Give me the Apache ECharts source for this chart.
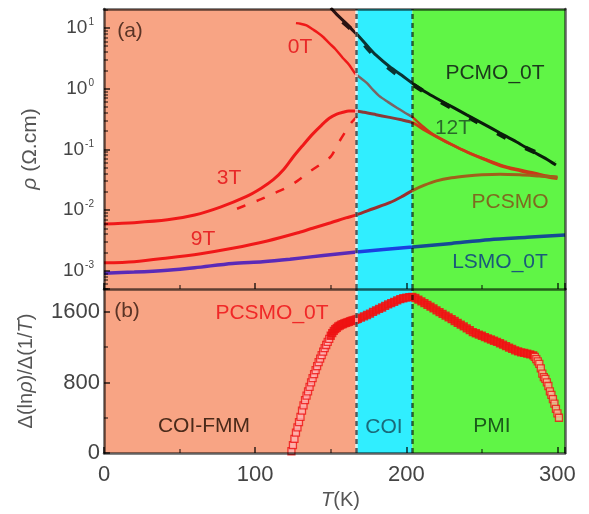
<!DOCTYPE html>
<html>
<head>
<meta charset="utf-8">
<script src="https://cdn.jsdelivr.net/npm/echarts@6/dist/echarts.min.js"></script>
<style>
  html, body { margin: 0; padding: 0; background: #fff; }
  #chart { width: 589px; height: 514px; }
</style>
</head>
<body>
<div id="chart"></div>
<script>
// Temperature regions (K): COI-FMM, COI, PMI
const regionStarts = [0, 167, 204];
const regionEnds = [167, 204, 305];
const regionColors = ['#F8A484', '#30EEFF', '#60F546'];

// (a) resistivity, Ω.cm
const pcmo0T_T = [150, 155, 160, 165, 169, 175, 180, 189, 197, 204, 213, 222, 231, 240, 251, 262, 273, 284, 292, 299];
const pcmo0T_rho = [21.4, 15.8, 12.0, 8.9, 7.1, 4.8, 3.55, 2.29, 1.66, 1.23, 0.87, 0.65, 0.49, 0.37, 0.263, 0.186, 0.132, 0.091, 0.071, 0.055];

const pcmo12T_T = [158, 166, 176, 186, 196, 206, 218, 230, 245, 260, 275, 290, 298];
const pcmo12T_rho = [12.6, 8.3, 4.17, 2.45, 1.58, 1.10, 0.71, 0.48, 0.30, 0.186, 0.117, 0.079, 0.060];

const pcsmo0T_T = [127, 130, 134, 138, 141, 145, 149, 153, 158, 162, 166, 170, 174, 178, 182, 188, 194, 200, 204, 210, 217, 225, 233, 240, 250, 262, 272, 283, 292, 300];
const pcsmo0T_rho = [12.0, 11.7, 11.0, 9.5, 8.5, 7.1, 5.6, 4.5, 3.2, 2.5, 1.8, 1.48, 1.23, 0.95, 0.76, 0.60, 0.48, 0.39, 0.34, 0.25, 0.18, 0.138, 0.11, 0.091, 0.072, 0.056, 0.048, 0.042, 0.037, 0.035];

const pcsmo3T_T = [0, 20, 42, 60, 77, 94, 104, 112, 119, 125, 131, 138, 144, 149, 154, 158, 162, 166, 172, 180, 188, 196, 204, 212, 220, 230, 240, 252, 264, 276, 288, 300];
const pcsmo3T_rho = [0.0059, 0.0062, 0.0069, 0.0083, 0.0112, 0.0166, 0.0229, 0.0316, 0.047, 0.074, 0.112, 0.178, 0.251, 0.324, 0.38, 0.407, 0.427, 0.427, 0.407, 0.372, 0.339, 0.309, 0.275, 0.209, 0.162, 0.120, 0.091, 0.068, 0.052, 0.044, 0.037, 0.033];

const pcsmo3Tb_T = [88, 96, 104, 112, 120, 128, 136, 143, 150, 155, 160, 164, 168];
const pcsmo3Tb_rho = [0.0105, 0.0126, 0.0151, 0.0186, 0.0229, 0.0302, 0.0427, 0.0562, 0.0759, 0.126, 0.200, 0.282, 0.355];

const pcsmo9T_T = [0, 20, 42, 64, 85, 108, 129, 138, 150, 160, 167, 178, 189, 197, 204, 212, 220, 230, 240, 250, 262, 275, 288, 300];
const pcsmo9T_rho = [0.00135, 0.00141, 0.00162, 0.00191, 0.00234, 0.00309, 0.00427, 0.00501, 0.00617, 0.00741, 0.00832, 0.0105, 0.0132, 0.0166, 0.0209, 0.0257, 0.0302, 0.0339, 0.0363, 0.038, 0.0389, 0.038, 0.0363, 0.0347];

const lsmo0T_T = [0, 20, 42, 60, 85, 105, 123, 145, 167, 185, 204, 230, 255, 280, 305];
const lsmo0T_rho = [0.00091, 0.00095, 0.00102, 0.00112, 0.00132, 0.00141, 0.00155, 0.00178, 0.00204, 0.00224, 0.00245, 0.00282, 0.00324, 0.00355, 0.00389];

// (b) Δ(ln ρ)/Δ(1/T) for PCSMO at 0 T
const dlnT = [124,125,126,127,128,129,130,131,132,133,134,135,136,137,138,139,140,141,142,143,144,145,146,147,148,149,150,151,152,153,154,155,156,157,158,159,160,161,162,163,164,165,166,167,168,170,172,174,176,178,180,182,184,186,188,190,192,194,196,198,200,202,204,206,208,210,212,214,216,218,220,222,224,226,228,230,232,234,236,238,240,242,244,246,248,250,252,254,256,258,260,262,264,266,268,270,272,274,276,278,280,282,284,285,286,287,288,289,290,291,292,293,294,295,296,297,298,299,300,301];
const dlnVal = [20,90,160,230,290,350,410,480,540,600,650,700,750,800,850,895,940,985,1030,1070,1110,1150,1190,1225,1260,1295,1330,1360,1385,1405,1420,1435,1445,1455,1462,1470,1476,1482,1488,1495,1500,1505,1510,1515,1522,1535,1550,1565,1580,1600,1618,1634,1650,1668,1685,1700,1715,1730,1745,1755,1763,1768,1770,1758,1740,1720,1700,1680,1660,1640,1618,1598,1578,1558,1538,1518,1497,1476,1456,1435,1414,1393,1372,1358,1343,1330,1315,1300,1287,1273,1260,1245,1228,1212,1196,1180,1165,1152,1142,1135,1126,1118,1108,1090,1065,1040,1010,960,900,860,840,800,760,700,660,610,560,500,450,400];

// Axis tick values
const rhoMajorTicks = [0.001, 0.01, 0.1, 1, 10];
const rhoMinorTicks = [];
[-4, -3, -2, -1, 0, 1].forEach(function (e) {
  for (let k = 2; k <= 9; k++) rhoMinorTicks.push(k * Math.pow(10, e));
});
const tickLabelsX = [0, 100, 200, 300];

const pairs = (xs, ys) => xs.map((x, i) => [x, ys[i]]);

const FONT = '"Liberation Sans", Arial, sans-serif';
const AXIS_DARK = 'rgba(0,0,0,0.62)';
const LABEL_GREY = '#444';

function regionPieces(c) {
  return [
    { lt: regionEnds[0], color: c[0] },
    { gte: regionStarts[1], lt: regionEnds[1], color: c[1] },
    { gte: regionStarts[2], color: c[2] }
  ];
}

const chart = echarts.init(document.getElementById('chart'), null, { renderer: 'canvas' });

const regionArea = regionStarts.map((s, i) => [
  { xAxis: s, itemStyle: { color: regionColors[i] } },
  { xAxis: regionEnds[i] }
]);
const boundaryLines = [
  { xAxis: regionStarts[1], lineStyle: { color: 'rgba(255,255,255,0.55)', type: 'solid', width: 3 } },
  { xAxis: regionStarts[1] },
  { xAxis: regionStarts[2] }
];

function markerSeries(xIdx, yIdx) {
  return [
    {
      type: 'line', xAxisIndex: xIdx, yAxisIndex: yIdx, data: [], z: 1, silent: true,
      markArea: { silent: true, data: regionArea }
    },
    {
      type: 'line', xAxisIndex: xIdx, yAxisIndex: yIdx, data: [], z: 2, silent: true,
      markLine: {
        silent: true, symbol: 'none', label: { show: false },
        lineStyle: { color: AXIS_DARK, type: [5, 4], width: 2.5 },
        data: boundaryLines
      }
    }
  ];
}

function curve(name, T, rho, width, dash) {
  return {
    name: name, type: 'line', xAxisIndex: 0, yAxisIndex: 0,
    data: pairs(T, rho), smooth: 0.3, showSymbol: false, z: 3,
    lineStyle: { width: width, type: dash || 'solid' }
  };
}

const series = [].concat(
  markerSeries(0, 0),
  [
    curve('PCMO_0T', pcmo0T_T, pcmo0T_rho, 3),
    curve('PCMO_12T', pcmo12T_T, pcmo12T_rho, 4.5, [10, 22]),
    curve('PCSMO 0T', pcsmo0T_T, pcsmo0T_rho, 2.5),
    curve('PCSMO 3T', pcsmo3T_T, pcsmo3T_rho, 3),
    curve('PCSMO 3T sweep', pcsmo3Tb_T, pcsmo3Tb_rho, 2.5, [9, 12]),
    curve('PCSMO 9T', pcsmo9T_T, pcsmo9T_rho, 3),
    curve('LSMO_0T', lsmo0T_T, lsmo0T_rho, 3.5)
  ],
  markerSeries(2, 2),
  [{
    name: 'PCSMO_0T', type: 'scatter', xAxisIndex: 2, yAxisIndex: 2, z: 3,
    data: pairs(dlnT, dlnVal), symbol: 'rect', symbolSize: 7,
    itemStyle: { borderColor: '#ee1111', borderWidth: 1.3 }
  }]
);

const visualMap = [
  { idx: 2, c: ['#2a1212', '#0a3434', '#0a1e0a'] },
  { idx: 3, c: ['#2a1212', '#0a3434', '#0a1e0a'] },
  { idx: 4, c: ['#f01818', '#7a6464', '#c43c18'] },
  { idx: 5, c: ['#f01818', '#8a3a3a', '#cc3a16'] },
  { idx: 6, c: ['#f01818', '#8a3a3a', '#cc3a16'] },
  { idx: 7, c: ['#f01818', '#9a3030', '#a0601a'] },
  { idx: 8, c: ['#5a2ab8', '#1a40e0', '#154a95'] }
].map(v => ({
  type: 'piecewise', show: false, seriesIndex: v.idx, dimension: 0,
  pieces: regionPieces(v.c)
}));
// marker fill of the (b) curve: open squares at both ends, solid through the middle
visualMap.push({
  type: 'piecewise', show: false, seriesIndex: 11, dimension: 0,
  pieces: [
    { lt: 150, color: '#ffb4b4' },
    { gte: 150, lt: 285, color: '#f01818' },
    { gte: 285, color: '#f8b898' }
  ]
});

// fresh style objects for every axis
const tickStyle = (extra) => Object.assign({ show: true, inside: true, length: 6, lineStyle: { color: AXIS_DARK, width: 2 } }, extra || {});
const minorStyle = () => ({ show: true, splitNumber: 2, length: 4, lineStyle: { color: AXIS_DARK, width: 1.5 } });
const lineOnly = () => ({ show: true, lineStyle: { color: AXIS_DARK, width: 2.5 } });

function text(str, x, y, color, size) {
  return {
    type: 'text', x: x, y: y, z: 20, zlevel: 2, silent: true,
    style: {
      text: str, fill: color, fontSize: size || 21, fontFamily: FONT,
      align: 'center', verticalAlign: 'middle'
    }
  };
}

const option = {
  backgroundColor: '#ffffff',
  animation: false,
  grid: [
    { left: 104, top: 9, width: 461, height: 280 },
    { left: 104, top: 289, width: 461, height: 164 }
  ],
  xAxis: [
    { // (a) bottom
      type: 'value', gridIndex: 0, min: 0, max: 305, interval: 100, zlevel: 1,
      axisLine: lineOnly(), axisTick: tickStyle(), minorTick: minorStyle(),
      axisLabel: { show: false }, splitLine: { show: false }
    },
    { // (a) top edge
      type: 'value', gridIndex: 0, position: 'top', min: 0, max: 305, zlevel: 1,
      axisLine: lineOnly(), axisTick: { show: false }, axisLabel: { show: false }, splitLine: { show: false }
    },
    { // (b) bottom
      type: 'value', gridIndex: 1, min: 0, max: 305, interval: 100, zlevel: 1,
      axisLine: lineOnly(), axisTick: tickStyle(), minorTick: minorStyle(),
      axisLabel: {
        color: LABEL_GREY, fontSize: 22, fontFamily: FONT, margin: 11,
        showMaxLabel: false,
        formatter: v => (tickLabelsX.indexOf(v) >= 0 ? String(v) : '')
      },
      splitLine: { show: false },
      name: '{i|T}(K)', nameLocation: 'middle', nameGap: 37,
      nameTextStyle: {
        color: '#555', fontSize: 20, fontFamily: FONT, padding: [0, 0, 0, 12],
        rich: { i: { fontStyle: 'italic', fontSize: 20, color: '#555', fontFamily: FONT } }
      }
    }
  ],
  yAxis: [
    { // (a) resistivity, log scale
      type: 'log', logBase: 10, gridIndex: 0, min: 0.0005, max: 20.5, zlevel: 1,
      axisLine: lineOnly(),
      axisTick: tickStyle({ customValues: rhoMajorTicks }),
      axisLabel: {
        customValues: rhoMajorTicks, margin: 10, color: LABEL_GREY,
        formatter: v => '{b|10}{s|' + Math.round(Math.log10(v)) + '}',
        rich: {
          b: { fontSize: 19, fontFamily: FONT, color: LABEL_GREY },
          s: { fontSize: 10, fontFamily: FONT, color: LABEL_GREY, padding: [0, 0, 11, 1] }
        }
      },
      splitLine: { show: false },
      name: '{i|ρ} (Ω.cm)', nameLocation: 'middle', nameGap: 63,
      nameTextStyle: {
        color: '#555', fontSize: 21, fontFamily: FONT,
        rich: { i: { fontStyle: 'italic', fontSize: 21, color: '#555', fontFamily: FONT } }
      }
    },
    { // (a) minor log ticks
      type: 'log', logBase: 10, gridIndex: 0, position: 'left', min: 0.0005, max: 20.5, zlevel: 1,
      axisLine: { show: false },
      axisTick: { show: true, customValues: rhoMinorTicks, inside: true, length: 4, lineStyle: { color: AXIS_DARK, width: 1.5 } },
      axisLabel: { show: false }, splitLine: { show: false }
    },
    { // (b) activation plot
      type: 'value', gridIndex: 1, min: 0, max: 1860, interval: 800, zlevel: 1,
      axisLine: lineOnly(), axisTick: tickStyle(), minorTick: minorStyle(),
      axisLabel: {
        color: LABEL_GREY, fontSize: 22, fontFamily: FONT, margin: 4, showMaxLabel: false,
        formatter: v => String(v)
      },
      splitLine: { show: false },
      name: 'Δ(ln{i|ρ})/Δ(1/{i|T})', nameLocation: 'middle', nameGap: 68,
      nameTextStyle: {
        color: '#555', fontSize: 20, fontFamily: FONT,
        rich: { i: { fontStyle: 'italic', fontSize: 20, color: '#555', fontFamily: FONT } }
      }
    },
    { // (a) right edge
      type: 'value', gridIndex: 0, position: 'right', zlevel: 1,
      axisLine: lineOnly(), axisTick: { show: false }, axisLabel: { show: false }, splitLine: { show: false }
    },
    { // (b) right edge
      type: 'value', gridIndex: 1, position: 'right', zlevel: 1,
      axisLine: lineOnly(), axisTick: { show: false }, axisLabel: { show: false }, splitLine: { show: false }
    }
  ],
  visualMap: visualMap,
  series: series,
  graphic: [
    text('(a)', 130, 31, '#5a3426'),
    text('0T', 300, 47, '#e82828'),
    text('3T', 229, 178, '#e82828'),
    text('9T', 203, 239, '#e82828'),
    text('PCMO_0T', 495, 73, '#1c3a1c'),
    text('12T', 453, 128, '#2a6a2a'),
    text('PCSMO', 510, 202, '#7e6a20'),
    text('LSMO_0T', 500, 262, '#1a5a7a'),
    text('(b)', 127, 311, '#5a3426'),
    text('PCSMO_0T', 272, 313, '#f02828'),
    text('COI-FMM', 204, 426, '#4a2a1a'),
    text('COI', 384, 427, '#1a6a7a'),
    text('PMI', 492, 426, '#1a5a1a')
  ]
};

chart.setOption(option);
</script>
</body>
</html>
